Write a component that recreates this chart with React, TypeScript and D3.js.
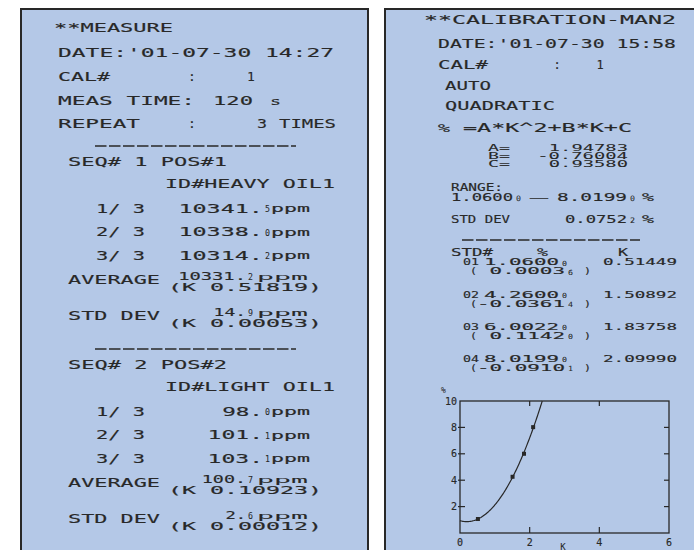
import React from 'react';
import * as d3 from 'd3';

// ---- data read from the printouts ----
const measureDate = "'01-07-30 14:27";
const calDate = "'01-07-30 15:58";
const calNo = 1;
const measTimeSec = 120;
const repeatTimes = 3;
const sampleIds = ['HEAVY OIL1', 'LIGHT OIL1'];
const seqReadings = [
  [10341.5, 10338.0, 10314.2],
  [98.0, 101.1, 103.1],
];
const seqAverage = [10331.2, 100.7];
const seqAverageK = [0.51819, 0.10923];
const seqStdDev = [14.9, 2.6];
const seqStdDevK = [0.00053, 0.00012];

const coefNames = ['A', 'B', 'C'];
const coefValues = [1.94783, -0.76004, 0.9358];
const rangeMin = 1.06;
const rangeMax = 8.0199;
const calStdDev = 0.07522;
const stdPercent = [1.06, 4.26, 6.0022, 8.0199];
const stdK = [0.51449, 1.50892, 1.83758, 2.0999];
const stdResidual = [0.00036, -0.03614, 0.1142, -0.09101];

const xTicks = [0, 2, 4, 6];
const yTicks = [2, 4, 6, 8, 10];

const INK = '#282828';
const PANEL = '#b4c8e7';
const FONT = "'DejaVu Sans Mono', 'Liberation Mono', monospace";

type TP = {
  x: number;
  y: number;
  w?: number;
  fs?: number;
  anchor?: 'start' | 'middle' | 'end';
  children: React.ReactNode;
};
function T({ x, y, w, fs = 13, anchor = 'start', children }: TP) {
  return (
    <text
      x={x}
      y={y + fs * 0.36}
      fontSize={fs}
      textAnchor={anchor}
      textLength={w}
      lengthAdjust={w ? 'spacingAndGlyphs' : undefined}
      stroke={INK}
      strokeWidth={fs > 9 ? 0.15 : 0.05}
      style={{ whiteSpace: 'pre' }}
    >
      {children}
    </text>
  );
}

function Dashes({ x1, x2, y }: { x1: number; x2: number; y: number }) {
  return <line x1={x1} x2={x2} y1={y} y2={y} stroke={INK} strokeWidth={1.4} strokeDasharray="11.5 2.5" />;
}

const head = (v: number, d: number) => v.toFixed(d).slice(0, -1);
const tail = (v: number, d: number) => v.toFixed(d).slice(-1);

// value + small trailing digit + ppm
function Ppm({ v, y, endX, cell, fs, smallFs, ppmX, ppmW }: { v: number; y: number; endX: number; cell: number; fs: number; smallFs: number; ppmX: number; ppmW: number }) {
  const main = head(v, 1);
  return (
    <g>
      <T x={endX} y={y} fs={fs} anchor="end" w={main.length * cell - 3}>{main}</T>
      <T x={endX + 2} y={y + 1} fs={smallFs} w={5}>{tail(v, 1)}</T>
      <T x={ppmX} y={y + 0.5} fs={smallFs + 1} w={ppmW}>ppm</T>
    </g>
  );
}

function LeftPanel() {
  const seqTop = [146, 349];
  return (
    <g>
      <rect x={21} y={9} width={347} height={560} fill={PANEL} stroke={INK} strokeWidth={2} />
      <T x={54} y={27} w={119}>**MEASURE</T>
      <T x={58} y={52} w={276}>{'DATE:' + measureDate}</T>
      <T x={58} y={76} w={52}>CAL#</T>
      <T x={192} y={76} anchor="middle">:</T>
      <T x={251} y={76} anchor="middle">{String(calNo)}</T>
      <T x={58} y={100} w={137}>MEAS TIME:</T>
      <T x={213} y={100} w={40}>{String(measTimeSec)}</T>
      <T x={270} y={101} fs={11} w={11}>s</T>
      <T x={58} y={123} w={82}>REPEAT</T>
      <T x={192} y={123} anchor="middle">:</T>
      <T x={257} y={123} w={10}>{String(repeatTimes)}</T>
      <T x={279} y={123} w={57}>TIMES</T>
      {seqTop.map((top, s) => (
        <g key={s}>
          <Dashes x1={95} x2={296} y={top} />
          <T x={68} y={top + 15} w={159}>{`SEQ# ${s + 1} POS#${s + 1}`}</T>
          <T x={165} y={top + 37} w={170}>{'ID#' + sampleIds[s]}</T>
          {seqReadings[s].map((v, i) => {
            const yy = top + 62 + i * 23.5;
            return (
              <g key={i}>
                <T x={96} y={yy} w={49}>{`${i + 1}/ ${seqReadings[s].length}`}</T>
                <Ppm v={v} y={yy} endX={263} cell={14.6} fs={13} smallFs={9} ppmX={271} ppmW={39} />
              </g>
            );
          })}
          <T x={68} y={top + 133} w={92}>AVERAGE</T>
          <Ppm v={seqAverage[s]} y={top + 130} endX={246} cell={11.8} fs={10} smallFs={8} ppmX={257} ppmW={51} />
          <T x={168} y={top + 141} fs={10} w={154}>{`(K ${seqAverageK[s].toFixed(5)})`}</T>
          <T x={68} y={top + 169} w={92}>STD DEV</T>
          <Ppm v={seqStdDev[s]} y={top + 166} endX={246} cell={11.8} fs={10} smallFs={8} ppmX={257} ppmW={51} />
          <T x={168} y={top + 177} fs={10} w={154}>{`(K ${seqStdDevK[s].toFixed(5)})`}</T>
        </g>
      ))}
    </g>
  );
}

function Chart() {
  const x = d3.scaleLinear().domain([0, 6]).range([460, 669]);
  const y = d3.scaleLinear().domain([0, 10]).range([533, 401]);
  const [a, b, c] = coefValues;
  const f = (k: number) => a * k * k + b * k + c;
  const kTop = (-b + Math.sqrt(b * b - 4 * a * (c - 10))) / (2 * a);
  const ks = d3.range(0, kTop, 0.02).concat([kTop]);
  const path = d3.line<number>().x((k) => x(k)).y((k) => y(f(k)))(ks) || '';
  const [x0, x1] = x.range();
  const [y0, y1] = y.range();
  const tl = 5;
  return (
    <g>
      <rect x={x0} y={y1} width={x1 - x0} height={y0 - y1} fill="none" stroke={INK} strokeWidth={1.3} />
      {yTicks.map((t) => (
        <g key={'y' + t}>
          {t < 10 && <line x1={x0 - 2} x2={x0 + tl} y1={y(t)} y2={y(t)} stroke={INK} strokeWidth={1.2} />}
          {t < 10 && <line x1={x1 - tl} x2={x1} y1={y(t)} y2={y(t)} stroke={INK} strokeWidth={1.2} />}
          <T x={x0 - 3} y={y(t)} fs={10} anchor="end">{String(t)}</T>
        </g>
      ))}
      {xTicks.map((t) => (
        <g key={'x' + t}>
          {t > 0 && t < 6 && <line x1={x(t)} x2={x(t)} y1={y1} y2={y1 + tl} stroke={INK} strokeWidth={1.2} />}
          {t > 0 && t < 6 && <line x1={x(t)} x2={x(t)} y1={y0} y2={y0 - tl - 1} stroke={INK} strokeWidth={1.2} />}
          <T x={x(t)} y={y0 + 9} fs={10} anchor="middle">{String(t)}</T>
        </g>
      ))}
      <T x={441} y={390} fs={8}>%</T>
      <T x={563} y={547} fs={9} anchor="middle">K</T>
      <path d={path} fill="none" stroke={INK} strokeWidth={1.2} />
      {stdK.map((k, i) => (
        <rect key={i} x={x(k) - 2} y={y(stdPercent[i]) - 2} width={4} height={4} fill={INK} />
      ))}
    </g>
  );
}

function RightPanel() {
  return (
    <g>
      <rect x={385} y={9} width={330} height={560} fill={PANEL} stroke={INK} strokeWidth={2} />
      <T x={424} y={20} fs={12} w={252}>**CALIBRATION-MAN2</T>
      <T x={438} y={44} fs={12} w={238}>{'DATE:' + calDate}</T>
      <T x={438} y={65} fs={12} w={50}>CAL#</T>
      <T x={557} y={65} fs={12} anchor="middle">:</T>
      <T x={600} y={65} fs={12} anchor="middle">{String(calNo)}</T>
      <T x={445} y={86} fs={12} w={46}>AUTO</T>
      <T x={445} y={106} fs={12} w={110}>QUADRATIC</T>
      <T x={438} y={128} fs={11} w={12}>%</T>
      <T x={463} y={128} fs={12} w={169}>=A*K^2+B*K+C</T>
      {coefNames.map((n, i) => {
        const s = coefValues[i].toFixed(5);
        return (
          <g key={n}>
            <T x={488} y={148 + i * 8} fs={9} w={22}>{n + '='}</T>
            <T x={628} y={148 + i * 8} fs={9} anchor="end" w={s.length * 11.6 - 2}>{s}</T>
          </g>
        );
      })}
      <T x={451} y={187} fs={10} w={52}>RANGE:</T>
      <T x={451} y={197} fs={10} w={62}>{head(rangeMin, 5)}</T>
      <T x={516} y={198} fs={7.5} w={5}>{tail(rangeMin, 5)}</T>
      <T x={530} y={197} fs={10} w={18}>—</T>
      <T x={557} y={197} fs={10} w={70}>{head(rangeMax, 5)}</T>
      <T x={630} y={198} fs={7.5} w={5}>{tail(rangeMax, 5)}</T>
      <T x={642} y={197} fs={10} w={12}>%</T>
      <T x={451} y={219} fs={11} w={59}>STD DEV</T>
      <T x={565} y={219} fs={11} w={62}>{head(calStdDev, 5)}</T>
      <T x={630} y={220} fs={7.5} w={5}>{tail(calStdDev, 5)}</T>
      <T x={642} y={219} fs={11} w={12}>%</T>
      <Dashes x1={462} x2={640} y={240} />
      <T x={451} y={252} fs={10} w={42}>STD#</T>
      <T x={537} y={252} fs={10} w={11}>%</T>
      <T x={618} y={252} fs={10} w={10}>K</T>
      {stdPercent.map((p, i) => {
        const yy = 262 + i * 32.3;
        const r = stdResidual[i];
        const rs = r < 0 ? head(r, 5) : ' ' + head(r, 5);
        return (
          <g key={i}>
            <T x={463} y={yy} fs={9.5} w={16}>{String(i + 1).padStart(2, '0')}</T>
            <T x={484} y={yy} fs={9.5} w={75}>{head(p, 5)}</T>
            <T x={562} y={yy + 1} fs={7} w={5}>{tail(p, 5)}</T>
            <T x={603} y={yy} fs={9.5} w={74}>{stdK[i].toFixed(5)}</T>
            <T x={470} y={yy + 9} fs={9.5} w={7}>(</T>
            <T x={477} y={yy + 9} fs={9.5} w={88}>{rs}</T>
            <T x={568} y={yy + 10} fs={7} w={5}>{tail(r, 5)}</T>
            <T x={584} y={yy + 9} fs={9.5} w={7}>)</T>
          </g>
        );
      })}
      <Chart />
    </g>
  );
}

export default function App() {
  return (
    <svg
      width={694}
      height={550}
      viewBox="0 0 694 550"
      style={{ position: 'absolute', left: 0, top: 0, background: '#ffffff' }}
      fontFamily={FONT}
      fill={INK}
    >
      <rect x={0} y={0} width={694} height={550} fill="#ffffff" />
      <LeftPanel />
      <RightPanel />
    </svg>
  );
}
